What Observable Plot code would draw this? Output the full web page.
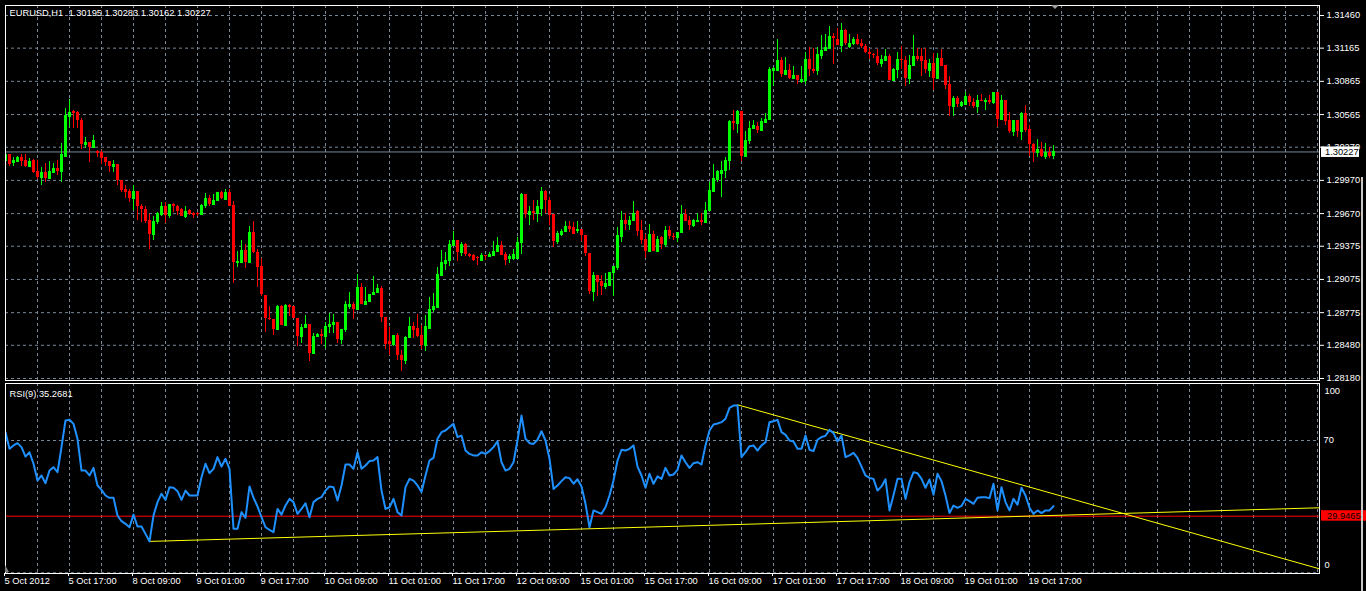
<!DOCTYPE html>
<html><head><meta charset="utf-8">
<script src="https://cdn.jsdelivr.net/npm/d3@7"></script>
<script src="https://cdn.jsdelivr.net/npm/@observablehq/plot@0.6"></script>
<style>
html,body{margin:0;padding:0;background:#000;overflow:hidden}
#chart{position:relative;width:1366px;height:591px;background:#000}
#chart svg{display:block}
#edge{position:absolute;left:1361px;top:177px;width:2px;height:414px;background:#c8c8c8}
</style></head><body><div id="chart"></div>
<script>
// ---------- data (EURUSD H1, 5 Oct 2012 01:00 .. 19 Oct 2012 23:00) ----------
const symbol = "EURUSD,H1";
const lastQuote = ["1.30195", "1.30283", "1.30162", "1.30227"];
const opens = [
1.3015,1.3020,1.3013,1.3014,1.3018,1.3015,1.3010,1.3015,1.3005,1.3000,
1.3004,1.2999,1.3004,1.3008,1.3005,1.3019,1.3055,1.3059,1.3058,1.3051,
1.3029,1.3031,1.3027,1.3023,1.3022,1.3018,1.3014,1.3010,1.3011,1.2997,
1.2989,1.2987,1.2981,1.2987,1.2973,1.2971,1.2961,1.2948,1.2960,1.2966,
1.2973,1.2965,1.2975,1.2973,1.2971,1.2964,1.2970,1.2967,1.2967,1.2966,
1.2974,1.2981,1.2975,1.2979,1.2986,1.2980,1.2986,1.2974,1.2923,1.2923,
1.2934,1.2923,1.2950,1.2932,1.2919,1.2893,1.2872,1.2871,1.2862,1.2883,
1.2866,1.2884,1.2883,1.2872,1.2856,1.2864,1.2867,1.2841,1.2856,1.2858,
1.2856,1.2865,1.2867,1.2869,1.2853,1.2862,1.2883,1.2885,1.2880,1.2900,
1.2885,1.2888,1.2894,1.2896,1.2899,1.2873,1.2851,1.2849,1.2857,1.2839,
1.2834,1.2855,1.2865,1.2863,1.2857,1.2848,1.2863,1.2880,1.2882,1.2911,
1.2922,1.2925,1.2938,1.2943,1.2932,1.2939,1.2930,1.2929,1.2927,1.2925,
1.2929,1.2928,1.2929,1.2933,1.2938,1.2930,1.2926,1.2926,1.2926,1.2941,
1.2984,1.2966,1.2969,1.2967,1.2972,1.2987,1.2979,1.2966,1.2942,1.2948,
1.2951,1.2955,1.2954,1.2952,1.2953,1.2947,1.2931,1.2897,1.2911,1.2906,
1.2901,1.2902,1.2914,1.2918,1.2946,1.2961,1.2957,1.2961,1.2969,1.2952,
1.2944,1.2933,1.2948,1.2933,1.2945,1.2939,1.2952,1.2946,1.2945,1.2950,
1.2966,1.2961,1.2956,1.2960,1.2961,1.2959,1.2970,1.2987,1.2998,1.3003,
1.3006,1.3015,1.3050,1.3048,1.3059,1.3019,1.3033,1.3044,1.3046,1.3042,
1.3049,1.3052,1.3096,1.3096,1.3105,1.3093,1.3096,1.3089,1.3092,1.3086,
1.3087,1.3106,1.3097,1.3096,1.3110,1.3114,1.3116,1.3127,1.3124,1.3119,
1.3132,1.3118,1.3121,1.3124,1.3121,1.3118,1.3113,1.3111,1.3109,1.3103,
1.3105,1.3109,1.3087,1.3097,1.3106,1.3105,1.3089,1.3101,1.3109,1.3109,
1.3105,1.3096,1.3103,1.3089,1.3107,1.3101,1.3084,1.3064,1.3071,1.3065,
1.3066,1.3073,1.3067,1.3064,1.3069,1.3068,1.3069,1.3067,1.3076,1.3052,
1.3069,1.3051,1.3041,1.3051,1.3041,1.3057,1.3043,1.3029,1.3022,1.3025,
1.3019,1.3022,1.30195];
const highs = [
1.3021,1.3020,1.3018,1.3019,1.3020,1.3020,1.3017,1.3016,1.3015,1.3009,
1.3012,1.3014,1.3012,1.3015,1.3030,1.3062,1.3070,1.3060,1.3059,1.3053,
1.3036,1.3031,1.3038,1.3024,1.3024,1.3018,1.3014,1.3015,1.3011,1.2997,
1.2992,1.2989,1.2992,1.2987,1.2975,1.2973,1.2966,1.2964,1.2968,1.2977,
1.2977,1.2975,1.2976,1.2974,1.2972,1.2973,1.2971,1.2968,1.2968,1.2975,
1.2985,1.2983,1.2984,1.2986,1.2987,1.2989,1.2989,1.2978,1.2933,1.2943,
1.2939,1.2955,1.2960,1.2935,1.2926,1.2893,1.2883,1.2871,1.2884,1.2884,
1.2885,1.2885,1.2883,1.2872,1.2867,1.2875,1.2867,1.2859,1.2859,1.2862,
1.2869,1.2877,1.2876,1.2869,1.2862,1.2888,1.2896,1.2887,1.2912,1.2904,
1.2900,1.2894,1.2910,1.2903,1.2901,1.2873,1.2864,1.2857,1.2859,1.2843,
1.2856,1.2873,1.2869,1.2876,1.2866,1.2875,1.2891,1.2895,1.2918,1.2934,
1.2932,1.2943,1.2951,1.2943,1.2941,1.2940,1.2931,1.2930,1.2928,1.2931,
1.2929,1.2932,1.2942,1.2945,1.2942,1.2932,1.2930,1.2935,1.2945,1.2985,
1.2984,1.2973,1.2979,1.2979,1.2991,1.2988,1.2982,1.2966,1.2951,1.2953,
1.2960,1.2960,1.2959,1.2960,1.2953,1.2947,1.2931,1.2914,1.2911,1.2911,
1.2913,1.2914,1.2919,1.2954,1.2969,1.2967,1.2964,1.2978,1.2970,1.2961,
1.2948,1.2957,1.2951,1.2946,1.2946,1.2955,1.2955,1.2949,1.2950,1.2974,
1.2971,1.2964,1.2962,1.2967,1.2967,1.2977,1.2995,1.3011,1.3006,1.3014,
1.3018,1.3051,1.3060,1.3060,1.3059,1.3041,1.3050,1.3051,1.3049,1.3053,
1.3057,1.3099,1.3099,1.3124,1.3108,1.3108,1.3102,1.3100,1.3092,1.3100,
1.3113,1.3117,1.3116,1.3117,1.3128,1.3129,1.3136,1.3130,1.3134,1.3139,
1.3133,1.3129,1.3126,1.3129,1.3124,1.3120,1.3116,1.3112,1.3115,1.3110,
1.3115,1.3111,1.3098,1.3113,1.3118,1.3109,1.3110,1.3128,1.3116,1.3116,
1.3116,1.3106,1.3112,1.3112,1.3115,1.3101,1.3091,1.3073,1.3073,1.3068,
1.3076,1.3075,1.3071,1.3074,1.3075,1.3071,1.3074,1.3076,1.3076,1.3074,
1.3069,1.3058,1.3051,1.3051,1.3058,1.3065,1.3047,1.3030,1.3034,1.3031,
1.3030,1.3027,1.30283];
const lows = [
1.3013,1.3010,1.3010,1.3013,1.3010,1.3009,1.3010,1.3003,1.2998,1.2992,
1.2995,1.2998,1.3004,1.3001,1.2995,1.3019,1.3045,1.3044,1.3044,1.3025,
1.3026,1.3013,1.3026,1.3018,1.3011,1.3010,1.3004,1.3004,1.2992,1.2986,
1.2981,1.2977,1.2970,1.2961,1.2959,1.2958,1.2935,1.2943,1.2957,1.2964,
1.2958,1.2963,1.2968,1.2965,1.2964,1.2963,1.2965,1.2963,1.2964,1.2965,
1.2972,1.2973,1.2974,1.2979,1.2980,1.2979,1.2973,1.2904,1.2918,1.2923,
1.2917,1.2923,1.2931,1.2900,1.2892,1.2860,1.2870,1.2857,1.2861,1.2866,
1.2865,1.2874,1.2872,1.2847,1.2850,1.2863,1.2833,1.2841,1.2855,1.2849,
1.2845,1.2859,1.2859,1.2850,1.2849,1.2860,1.2880,1.2871,1.2880,1.2885,
1.2885,1.2888,1.2894,1.2896,1.2869,1.2844,1.2839,1.2847,1.2834,1.2824,
1.2831,1.2854,1.2854,1.2855,1.2844,1.2842,1.2862,1.2878,1.2881,1.2911,
1.2916,1.2919,1.2937,1.2924,1.2928,1.2928,1.2927,1.2924,1.2920,1.2924,
1.2925,1.2928,1.2929,1.2932,1.2929,1.2920,1.2922,1.2925,1.2926,1.2930,
1.2963,1.2956,1.2961,1.2959,1.2964,1.2967,1.2956,1.2936,1.2939,1.2946,
1.2950,1.2950,1.2948,1.2949,1.2942,1.2928,1.2894,1.2888,1.2892,1.2893,
1.2898,1.2901,1.2892,1.2916,1.2941,1.2952,1.2952,1.2961,1.2946,1.2939,
1.2926,1.2933,1.2933,1.2932,1.2935,1.2936,1.2944,1.2943,1.2941,1.2950,
1.2960,1.2952,1.2954,1.2960,1.2956,1.2959,1.2970,1.2986,1.2995,1.2982,
1.2999,1.3006,1.3042,1.3039,1.3014,1.3019,1.3029,1.3043,1.3039,1.3041,
1.3048,1.3051,1.3082,1.3096,1.3090,1.3093,1.3088,1.3088,1.3084,1.3085,
1.3084,1.3091,1.3094,1.3092,1.3106,1.3114,1.3116,1.3102,1.3119,1.3113,
1.3119,1.3116,1.3119,1.3119,1.3116,1.3112,1.3106,1.3107,1.3101,1.3099,
1.3104,1.3087,1.3086,1.3089,1.3097,1.3082,1.3084,1.3100,1.3104,1.3091,
1.3094,1.3090,1.3078,1.3088,1.3100,1.3079,1.3055,1.3055,1.3063,1.3063,
1.3065,1.3064,1.3062,1.3057,1.3068,1.3060,1.3066,1.3066,1.3045,1.3052,
1.3047,1.3039,1.3037,1.3036,1.3033,1.3040,1.3019,1.3013,1.3018,1.3018,
1.3016,1.3017,1.30162];
const closes = [
1.3020,1.3011,1.3015,1.3018,1.3014,1.3010,1.3014,1.3004,1.3000,1.3004,
1.2999,1.3005,1.3008,1.3005,1.3020,1.3056,1.3058,1.3057,1.3051,1.3029,
1.3031,1.3027,1.3033,1.3021,1.3017,1.3013,1.3010,1.3011,1.2997,1.2988,
1.2986,1.2981,1.2987,1.2973,1.2971,1.2960,1.2948,1.2960,1.2967,1.2973,
1.2965,1.2975,1.2973,1.2969,1.2964,1.2969,1.2966,1.2965,1.2966,1.2974,
1.2981,1.2975,1.2979,1.2986,1.2981,1.2986,1.2973,1.2923,1.2924,1.2934,
1.2923,1.2950,1.2932,1.2918,1.2894,1.2872,1.2871,1.2862,1.2883,1.2866,
1.2884,1.2882,1.2872,1.2856,1.2864,1.2867,1.2841,1.2856,1.2858,1.2856,
1.2865,1.2867,1.2869,1.2853,1.2862,1.2885,1.2885,1.2880,1.2900,1.2885,
1.2888,1.2894,1.2896,1.2899,1.2873,1.2849,1.2849,1.2857,1.2839,1.2834,
1.2855,1.2865,1.2861,1.2856,1.2848,1.2865,1.2880,1.2883,1.2912,1.2923,
1.2925,1.2939,1.2943,1.2932,1.2939,1.2930,1.2928,1.2925,1.2926,1.2929,
1.2928,1.2930,1.2933,1.2938,1.2929,1.2925,1.2928,1.2930,1.2941,1.2984,
1.2966,1.2969,1.2967,1.2973,1.2987,1.2979,1.2965,1.2942,1.2949,1.2951,
1.2955,1.2953,1.2948,1.2953,1.2947,1.2931,1.2897,1.2911,1.2905,1.2901,
1.2904,1.2914,1.2919,1.2947,1.2961,1.2957,1.2961,1.2967,1.2951,1.2943,
1.2933,1.2948,1.2933,1.2944,1.2939,1.2952,1.2946,1.2945,1.2950,1.2966,
1.2960,1.2956,1.2961,1.2961,1.2959,1.2970,1.2988,1.2999,1.3005,1.3006,
1.3015,1.3050,1.3048,1.3059,1.3019,1.3033,1.3044,1.3047,1.3042,1.3050,
1.3052,1.3097,1.3098,1.3105,1.3093,1.3096,1.3089,1.3092,1.3087,1.3088,
1.3106,1.3097,1.3095,1.3111,1.3114,1.3117,1.3127,1.3125,1.3119,1.3132,
1.3121,1.3121,1.3124,1.3120,1.3118,1.3113,1.3111,1.3110,1.3103,1.3106,
1.3109,1.3087,1.3097,1.3106,1.3105,1.3089,1.3101,1.3109,1.3106,1.3104,
1.3097,1.3103,1.3089,1.3107,1.3100,1.3083,1.3064,1.3071,1.3066,1.3067,
1.3073,1.3067,1.3064,1.3069,1.3068,1.3069,1.3067,1.3076,1.3052,1.3069,
1.3050,1.3041,1.3051,1.3041,1.3057,1.3042,1.3029,1.3022,1.3025,1.3019,
1.3022,1.3019,1.30227];
const rsi = [
74.4,65.6,67.4,68.6,66.5,61.5,63.8,57.7,48.8,51.5,
47.4,54.1,55.9,53.2,66.5,80.6,81.0,78.8,70.9,54.1,
54.1,51.5,55.5,46.2,43.9,40.9,39.7,39.7,30.3,27.3,
25.9,24.1,30.8,24.5,24.5,20.6,16.6,30.3,37.4,41.8,
38.6,45.3,45.0,43.2,38.6,43.5,40.9,40.9,40.9,50.6,
57.7,52.7,55.0,61.2,56.2,60.3,55.0,23.3,23.3,32.1,
29.1,45.7,39.7,35.1,29.4,24.1,22.7,21.5,33.8,30.8,
35.6,39.1,37.4,31.2,33.8,36.8,29.4,37.4,39.1,40.0,
43.5,45.7,45.3,38.3,46.2,57.3,57.3,55.0,63.8,55.0,
56.8,59.1,59.4,61.2,43.5,33.8,34.7,39.1,32.1,30.3,
45.3,49.7,48.8,46.2,42.7,51.5,59.4,60.8,70.9,74.4,
75.3,77.1,78.8,71.8,72.6,64.7,62.9,62.1,62.1,63.8,
62.9,64.4,66.5,69.6,58.5,54.1,55.0,58.5,70.0,83.2,
70.9,68.6,68.2,70.4,74.9,70.0,60.3,44.4,46.2,48.5,
50.6,50.1,47.1,49.5,45.7,36.5,24.1,33.0,32.1,31.2,
34.7,40.9,48.8,59.4,65.1,64.7,65.6,67.4,56.2,51.5,
45.0,52.4,47.1,51.0,49.7,55.5,51.5,52.0,54.5,62.1,
58.5,55.5,58.0,58.5,57.3,67.4,75.3,78.5,79.0,79.7,
81.5,87.3,88.5,88.5,61.2,63.8,67.0,67.4,64.7,67.4,
69.1,79.7,80.2,80.9,74.4,73.0,70.0,69.5,65.6,65.6,
72.6,65.1,64.4,70.4,71.8,72.5,75.6,73.9,69.5,72.6,
61.2,62.1,63.5,60.8,56.2,51.5,50.2,49.7,43.5,45.7,
49.5,33.0,41.0,49.7,49.7,39.1,48.0,53.2,52.7,49.7,
45.0,49.4,41.3,52.4,48.5,40.9,31.6,35.6,34.4,35.4,
39.1,37.9,36.5,39.7,40.0,40.0,39.5,47.1,33.0,45.3,
37.4,33.0,39.1,36.0,45.0,40.9,34.4,31.2,33.0,31.6,
33.0,33.0,35.27];
const rsiName = "RSI(9)";
const rsiLast = "35.2681";
const priceTicks = [1.31460,1.31165,1.30865,1.30565,1.30270,1.29970,1.29670,1.29375,1.29075,1.28775,1.28480,1.28180];
const bidPrice = 1.30227;
const timeLabels = ["5 Oct 2012","5 Oct 17:00","8 Oct 09:00","9 Oct 01:00","9 Oct 17:00","10 Oct 09:00","11 Oct 01:00","11 Oct 17:00","12 Oct 09:00","15 Oct 01:00","15 Oct 17:00","16 Oct 09:00","17 Oct 01:00","17 Oct 17:00","18 Oct 09:00","19 Oct 01:00","19 Oct 17:00"];
const rsiLevelLine = 29.9465;
const supportLine = [{bar: 36, value: 16.6}, {bar: 328.5, value: 34.4}];
const resistanceLine = [{bar: 183, value: 88.9}, {bar: 328.5, value: 2.1}];

// ---------- layout ----------
const W = 1366;
const xDomain = [0, 328.5];
const xRange = [5, 1319];
const font = "'Liberation Sans', Arial, sans-serif";
const FS = 9.3;
const gridCol = "#778899";
const bars = closes.map((c, i) => ({i, open: opens[i], high: highs[i], low: lows[i], close: c, dir: c >= opens[i] ? "up" : "down"}));
const gridBars = d3.range(0, 329, 8);
const labelBars = timeLabels.map((_, k) => k * 16);
const rsiData = rsi.map((v, i) => ({i, v}));

const price = Plot.plot({
  width: W, height: 381,
  marginLeft: 5, marginRight: 47, marginTop: 5, marginBottom: 1,
  style: {background: "#000", color: "#fff", fontFamily: font, fontSize: FS + "px", overflow: "visible"},
  x: {domain: xDomain, range: xRange, axis: null},
  y: {domain: [1.28180, 1.31460], range: [378, 15], axis: null},
  color: {domain: ["up", "down"], range: ["#00ff00", "#ff0000"]},
  marks: [
    Plot.ruleY(priceTicks, {stroke: gridCol, strokeDasharray: "3,3"}),
    Plot.ruleX(gridBars, {stroke: gridCol, strokeDasharray: "3,3"}),
    Plot.ruleY([bidPrice], {stroke: gridCol}),
    Plot.ruleX(bars, {x: "i", y1: "low", y2: "high", stroke: "dir", clip: true, shapeRendering: "crispEdges"}),
    Plot.rect(bars, {x1: d => d.i - 0.375, x2: d => d.i + 0.375, y1: "open", y2: "close", fill: "dir", clip: true, shapeRendering: "crispEdges"}),
    Plot.ruleY(bars, {y: "open", x1: d => d.i - 0.375, x2: d => d.i + 0.375, stroke: "dir", clip: true, shapeRendering: "crispEdges"}),
    Plot.frame({stroke: "#fff"}),
    Plot.axisY({anchor: "right", ticks: priceTicks, tickFormat: d => d.toFixed(5), tickSize: 4, tickPadding: 3, fontSize: FS}),
    Plot.text([symbol + "\u00a0\u00a0" + lastQuote.join(" ")], {text: d => d, frameAnchor: "top-left", dx: 4, dy: 4, textAnchor: "start", lineAnchor: "top", fill: "#fff", fontSize: FS})
  ]
});

const rsiPlot = Plot.plot({
  width: W, height: 210,
  marginLeft: 5, marginRight: 47, marginTop: 2, marginBottom: 18,
  style: {background: "#000", color: "#fff", fontFamily: font, fontSize: FS + "px", overflow: "visible"},
  x: {domain: xDomain, range: xRange, axis: null},
  y: {domain: [0, 100], range: [191.3, 2.3], axis: null},
  marks: [
    Plot.ruleX(gridBars, {stroke: gridCol, strokeDasharray: "3,3"}),
    Plot.ruleY([0, 70], {stroke: gridCol, strokeDasharray: "3,3"}),
    Plot.ruleY([rsiLevelLine], {stroke: "#ff0000"}),
    Plot.line(supportLine, {x: "bar", y: "value", stroke: "#ffff00", strokeWidth: 1, clip: true}),
    Plot.line(resistanceLine, {x: "bar", y: "value", stroke: "#ffff00", strokeWidth: 1, clip: true}),
    Plot.line(rsiData, {x: "i", y: "v", stroke: "#1e90ff", strokeWidth: 2, clip: true}),
    Plot.frame({stroke: "#fff"}),
    Plot.text([100], {y: d => d, text: d => String(d), frameAnchor: "right", dx: 5, dy: 7.5, textAnchor: "start", fill: "#fff", fontSize: FS}),
    Plot.text([70], {y: d => d, text: d => String(d), frameAnchor: "right", dx: 4, dy: 0, textAnchor: "start", fill: "#fff", fontSize: FS}),
    Plot.text([0], {y: d => d, text: d => String(d), frameAnchor: "right", dx: 5, dy: -7.5, textAnchor: "start", fill: "#fff", fontSize: FS}),
    Plot.axisX({anchor: "bottom", ticks: labelBars, tickFormat: d => timeLabels[d / 16], tickSize: 3, tickPadding: 1, textAnchor: "start", dx: -1, fontSize: FS}),
    Plot.text([rsiName + " " + rsiLast], {text: d => d, frameAnchor: "top-left", dx: 4, dy: 7, textAnchor: "start", lineAnchor: "top", fill: "#fff", fontSize: FS})
  ]
});

// value labels on the right scale
const py = price.scale("y").apply(bidPrice);
const sp = d3.select(price);
sp.append("rect").attr("x", 1321).attr("y", py - 5).attr("width", 38).attr("height", 10.5).attr("fill", "#fff");
sp.append("text").attr("x", 1325).attr("y", py + 0.5).attr("dy", "0.35em").attr("fill", "#000")
  .attr("text-anchor", "start").attr("font-size", FS).attr("font-family", font).text(bidPrice.toFixed(5));
sp.append("path").attr("d", "M1051,5L1059,5L1055,9Z").attr("fill", "#a0a0a0");

const ry = rsiPlot.scale("y").apply(rsiLevelLine);
const sr = d3.select(rsiPlot);
sr.append("rect").attr("x", 1321).attr("y", ry - 5.5).attr("width", 45).attr("height", 10.5).attr("fill", "#ff0000");
sr.append("text").attr("x", 1327).attr("y", ry).attr("dy", "0.35em").attr("fill", "#000")
  .attr("text-anchor", "start").attr("font-size", FS).attr("font-family", font).text(rsiLevelLine.toFixed(4));
sr.append("path").attr("d", "M5,184L5,191L9,191Z").attr("fill", "#808080");

const root = document.getElementById("chart");
root.appendChild(price);
root.appendChild(rsiPlot);
const edge = document.createElement("div"); edge.id = "edge"; root.appendChild(edge);
</script></body></html>
